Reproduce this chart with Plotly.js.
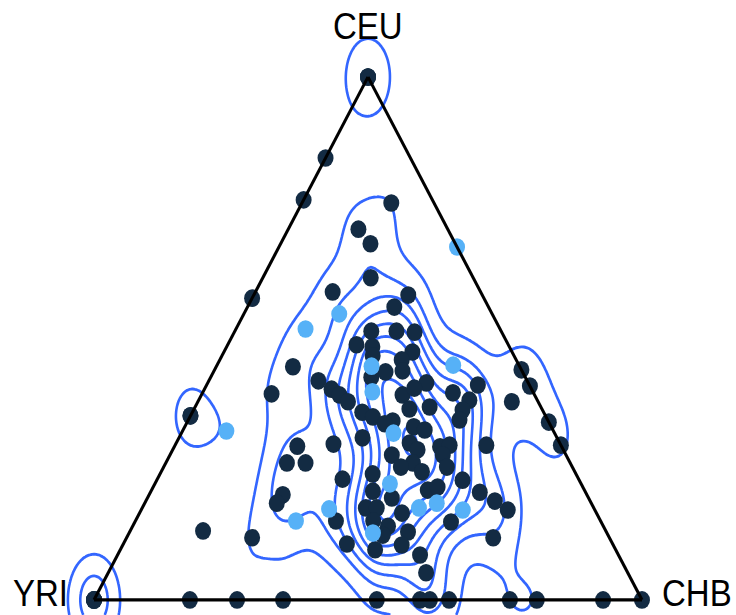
<!DOCTYPE html>
<html><head><meta charset="utf-8">
<script src="https://cdn.plot.ly/plotly-3.0.1.min.js"></script>
<style>html,body{margin:0;padding:0;background:#fff;overflow:hidden}
#wrap{width:736px;height:615px;overflow:hidden}
#plot{transform-origin:0 0}</style></head>
<body><div id="wrap"><div id="plot"></div></div>
<script>
// ---- data: ancestry fractions (CEU = top, YRI = bottom-left, CHB = bottom-right) ----
// (several samples coincide exactly at the pure-ancestry vertices)
const darkCEU = [1,1,1,0.845,0.765,0.577,0.352,0.352,0,0,0,0,0,0,0,0,0,0,0,0,0,0,0,0.440,0.409,0.340,0.296,
0.759,0.709,0.681,0.616,0.589,0.583,0.560,0.514,0.514,0.512,0.488,0.484,0.467,0.474,0.459,0.446,0.436,0.438,0.426,0.419,0.403,0.392,0.379,0.394,0.392,0.415,0.405,0.411,0.396,0.382,0.369,0.363,0.365,0.344,0.379,0.359,0.350,0.342,0.337,0.331,0.325,0.294,0.298,0.310,0.300,0.287,0.293,0.296,0.296,0.277,0.277,0.262,0.262,0.262,0.254,0.254,0.245,0.241,0.231,0.229,0.210,0.216,0.206,0.208,0.195,0.201,0.185,0.189,0.172,0.176,0.176,0.166,0.151,0.151,0.141,0.149,0.130,0.124,0.119,0.132,0.119,0.107,0.105,0.096,0.086,0.052];
const darkYRI = [0,0,0,0.155,0.235,0.423,0.648,0.648,1,1,1,1,0.825,0.739,0.655,0.484,0.405,0.387,0.352,0.241,0.192,0.071,0,0,0,0,0,
0.078,0.163,0.155,0.187,0.270,0.135,0.172,0.237,0.191,0.159,0.277,0.250,0.258,0.182,0.209,0.414,0.250,0.218,0.281,0.381,0.365,0.356,0.347,0.479,0.241,0.186,0.213,0.094,0.147,0.124,0.203,0.146,0.242,0.161,0.048,0.331,0.316,0.284,0.301,0.251,0.234,0.482,0.414,0.355,0.274,0.266,0.222,0.203,0.136,0.225,0.318,0.517,0.483,0.287,0.313,0.229,0.279,0.371,0.431,0.213,0.286,0.265,0.193,0.387,0.359,0.555,0.574,0.174,0.159,0.416,0.396,0.355,0.483,0.415,0.393,0.274,0.362,0.411,0.212,0.735,0.652,0.485,0.386,0.439,0.362,0.368];
const darkCHB = [0,0,0,0,0,0,0,0,0,0,0,0,0.175,0.261,0.345,0.516,0.595,0.613,0.648,0.759,0.808,0.929,1,0.560,0.591,0.660,0.704,
0.163,0.128,0.164,0.197,0.141,0.282,0.268,0.249,0.295,0.329,0.235,0.266,0.275,0.344,0.332,0.140,0.314,0.344,0.293,0.200,0.232,0.252,0.274,0.127,0.367,0.399,0.382,0.495,0.457,0.494,0.428,0.491,0.393,0.495,0.573,0.310,0.334,0.374,0.362,0.418,0.441,0.224,0.288,0.335,0.426,0.447,0.485,0.501,0.568,0.498,0.405,0.221,0.255,0.451,0.433,0.517,0.476,0.388,0.338,0.558,0.504,0.519,0.601,0.405,0.446,0.244,0.241,0.637,0.669,0.408,0.428,0.479,0.366,0.434,0.466,0.577,0.508,0.465,0.669,0.133,0.229,0.408,0.509,0.465,0.552,0.580];

const lightCEU = [0.675,0.547,0.518,0.447,0.449,0.398,0.319,0.323,0.222,0.176,0.185,0.172,0.174,0.151,0.128];
const lightYRI = [0,0.279,0.355,0.270,0.120,0.293,0.294,0.597,0.349,0.319,0.282,0.241,0.484,0.556,0.427];
const lightCHB = [0.325,0.174,0.127,0.283,0.431,0.309,0.387,0.080,0.429,0.505,0.533,0.587,0.342,0.293,0.445];

const vertexLabels = ['CEU','YRI','CHB'];

// ---- layout geometry (final pixels) ----
const W = 736, H = 615;
const LEFT = 94, SIDE = 548, BASE = 600, TOP = 77;
const S3 = Math.sqrt(3) / 2;
const scaleY = (BASE - TOP) / (SIDE * S3);
const Hp = H / scaleY;
const baseP = BASE / scaleY, topP = TOP / scaleY;
document.getElementById('plot').style.transform = 'scaleY(' + scaleY + ')';

// ---- 2D density estimate of all samples (drawn as contour lines) ----
const allA = darkCEU.concat(lightCEU);
const allC = darkCHB.concat(lightCHB);
const ptx = allA.map((a, i) => allC[i] + a / 2);
const pty = allA.map(a => a * S3);
const sx = 0.034, sy = 0.054;
const xmin = -LEFT / SIDE, xmax = (W - LEFT) / SIDE;
const ymin = -(Hp - baseP) / SIDE, ymax = baseP / SIDE;
const step = 0.004;
const gx = [], gy = [];
for (let x = xmin; x <= xmax; x += step) gx.push(x);
for (let y = ymin; y <= ymax; y += step) gy.push(y);
const z = gy.map(y => gx.map(x => {
  let s = 0;
  for (let k = 0; k < ptx.length; k++) {
    const dx = (x - ptx[k]) / sx, dy = (y - pty[k]) / sy;
    const e = 0.5 * (dx * dx + dy * dy);
    if (e < 12) s += Math.exp(-e);
  }
  return s;
}));
const lvlLow = 1.5, lvlStart = 3.05, lvlStep = 1.2;

const axisStyle = {showgrid:false, showticklabels:false, ticks:'', showline:true,
  linecolor:'#000000', linewidth:3, title:{text:''}, min:0};
const cLine = {color:'#3366FF', width:2.6, smoothing:1};

const traces = [
  {type:'contour', x:gx, y:gy, z:z, xaxis:'x', yaxis:'y',
   contours:{coloring:'none', start:lvlLow, end:lvlLow, size:1},
   line:cLine, showscale:false, hoverinfo:'skip', showlegend:false},
  {type:'contour', x:gx, y:gy, z:z, xaxis:'x', yaxis:'y',
   contours:{coloring:'none', start:lvlStart, end:lvlStart + lvlStep*40, size:lvlStep},
   line:cLine, showscale:false, hoverinfo:'skip', showlegend:false},
  {type:'scatterternary', mode:'markers', a:darkCEU, b:darkYRI, c:darkCHB,
   marker:{size:16, color:'#132B43', line:{width:0}}, cliponaxis:false, showlegend:false},
  {type:'scatterternary', mode:'markers', a:lightCEU, b:lightYRI, c:lightCHB,
   marker:{size:16, color:'#56B1F7', line:{width:0}}, cliponaxis:false, showlegend:false}
];

const fontL = {family:'Liberation Sans, Arial, sans-serif', size:33, color:'#000000'};
const layout = {
  width:W, height:Hp, margin:{l:0, r:0, t:0, b:0},
  paper_bgcolor:'#ffffff', plot_bgcolor:'rgba(0,0,0,0)', showlegend:false,
  xaxis:{domain:[0,1], range:[xmin,xmax], visible:false, fixedrange:true},
  yaxis:{domain:[0,1], range:[ymin,ymax], visible:false, fixedrange:true},
  ternary:{
    domain:{x:[LEFT/W, (LEFT+SIDE)/W], y:[1 - baseP/Hp, 1 - topP/Hp]},
    sum:1, bgcolor:'rgba(0,0,0,0)',
    aaxis:axisStyle, baxis:axisStyle, caxis:axisStyle
  },
  annotations:[
    {text:vertexLabels[0], xref:'paper', yref:'paper', x:368/W, y:1-26/H, xanchor:'center', yanchor:'middle', showarrow:false, font:fontL},
    {text:vertexLabels[1], xref:'paper', yref:'paper', x:40/W, y:1-593/H, xanchor:'center', yanchor:'middle', showarrow:false, font:fontL},
    {text:vertexLabels[2], xref:'paper', yref:'paper', x:697/W, y:1-593/H, xanchor:'center', yanchor:'middle', showarrow:false, font:fontL}
  ]
};
Plotly.newPlot('plot', traces, layout, {staticPlot:true, displayModeBar:false});
</script></body></html>
